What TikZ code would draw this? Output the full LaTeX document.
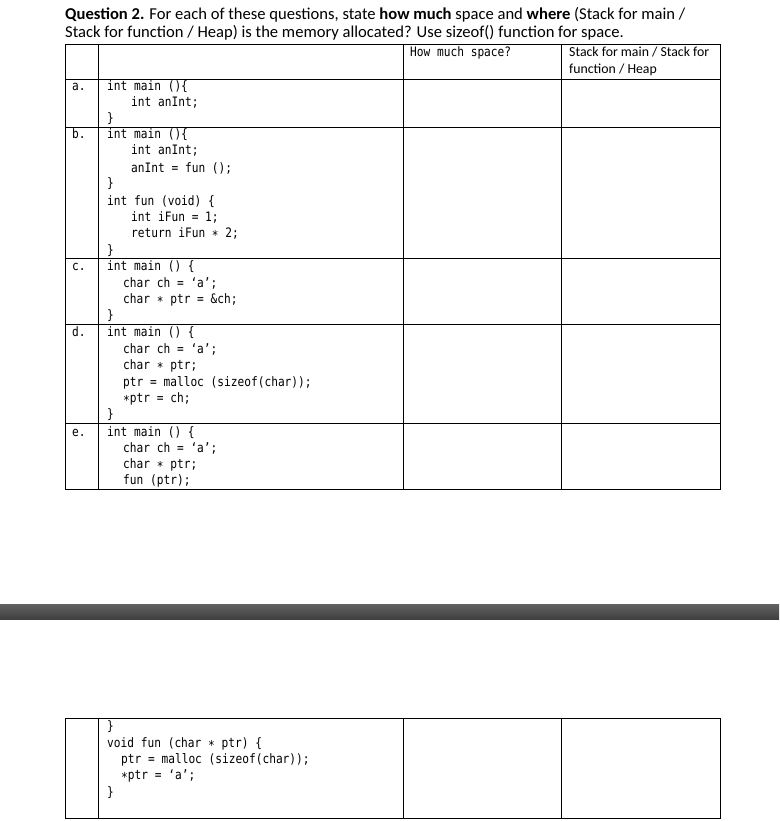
\documentclass[tikz,border=0pt]{standalone}
\usepackage{fontspec}
\setmainfont{Carlito}
\newfontfamily\codefont[FakeStretch=0.86]{DejaVu Sans Mono}
\begin{document}
\begin{tikzpicture}[x=1pt,y=-1pt,
  code/.style={anchor=base west,inner sep=0pt,font=\codefont\fontsize{13}{15}\selectfont},
  lbl/.style={anchor=base west,inner sep=0pt,font=\codefont\fontsize{13}{15}\selectfont},
  grid/.style={draw=black,line width=0.8pt}]
\useasboundingbox (0,0) rectangle (779,821);
% title
\node[anchor=base west,inner sep=0pt,font=\fontsize{16.6}{19}\selectfont] (t1) at (65,20) {\textbf{Question 2.} For each of these questions, state \textbf{how much} space and \textbf{where} (Stack for main /};
\node[anchor=base west,inner sep=0pt,font=\fontsize{16.6}{19}\selectfont] (t2) at (65,38) {Stack for function / Heap) is the memory allocated? Use sizeof() function for space.};
% table 1
\draw[grid] (65,44) rectangle (720,489);
\foreach \x in {98,403,561} \draw[grid] (\x,44) -- (\x,489);
\foreach \y in {79,127,258,324,423} \draw[grid] (65,\y) -- (720,\y);
\node[code] (h1) at (410,57) {How much space?};
\node[anchor=base west,inner sep=0pt,font=\fontsize{13.8}{16}\selectfont] (h2) at (569,57) {Stack for main / Stack for};
\node[anchor=base west,inner sep=0pt,font=\fontsize{13.8}{16}\selectfont] (h3) at (569,74) {function / Heap};
% a
\node[lbl] (la) at (72,91) {a.};
\node[code] (a1) at (107,91) {int main ()\{};
\node[code] (a2) at (131,107) {int anInt;};
\node[code] (a3) at (107,123) {\}};
% b
\node[lbl] (lb) at (72,139) {b.};
\node[code] (b1) at (107,139) {int main ()\{};
\node[code] (b2) at (131,155) {int anInt;};
\node[code] (b3) at (131,172) {anInt = fun ();};
\node[code] (b4) at (107,188) {\}};
\node[code] (b5) at (107,205) {int fun (void) \{};
\node[code] (b6) at (131,221) {int iFun = 1;};
\node[code] (b7) at (131,237) {return iFun ∗ 2;};
\node[code] (b8) at (107,254) {\}};
% c
\node[lbl] (lc) at (72,270) {c.};
\node[code] (c1) at (107,270) {int main () \{};
\node[code] (c2) at (123,287) {char ch = ‘a’;};
\node[code] (c3) at (123,303) {char ∗  ptr = \&ch;};
\node[code] (c4) at (107,319) {\}};
% d
\node[lbl] (ld) at (72,336) {d.};
\node[code] (d1) at (107,336) {int main () \{};
\node[code] (d2) at (123,353) {char ch = ‘a’;};
\node[code] (d3) at (123,369) {char ∗  ptr;};
\node[code] (d4) at (123,386) {ptr = malloc (sizeof(char));};
\node[code] (d5) at (123,402) {∗ptr = ch;};
\node[code] (d6) at (107,418) {\}};
% e
\node[lbl] (le) at (72,436) {e.};
\node[code] (e1) at (107,436) {int main () \{};
\node[code] (e2) at (123,452) {char ch = ‘a’;};
\node[code] (e3) at (123,468) {char ∗ ptr;};
\node[code] (e4) at (123,484) {fun (ptr);};
% gray bar
\shade[top color=black!62,bottom color=black!75] (0,604) rectangle (779,619);
% table 2
\draw[grid] (65,718) rectangle (720,818);
\foreach \x in {98,403,561} \draw[grid] (\x,718) -- (\x,818);
\node[code] (f1) at (107,730) {\}};
\node[code] (f2) at (107,747) {void fun (char ∗ ptr) \{};
\node[code] (f3) at (121,763) {ptr = malloc (sizeof(char));};
\node[code] (f4) at (121,779) {∗ptr = ‘a’;};
\node[code] (f5) at (107,796) {\}};
\end{tikzpicture}
\end{document}
